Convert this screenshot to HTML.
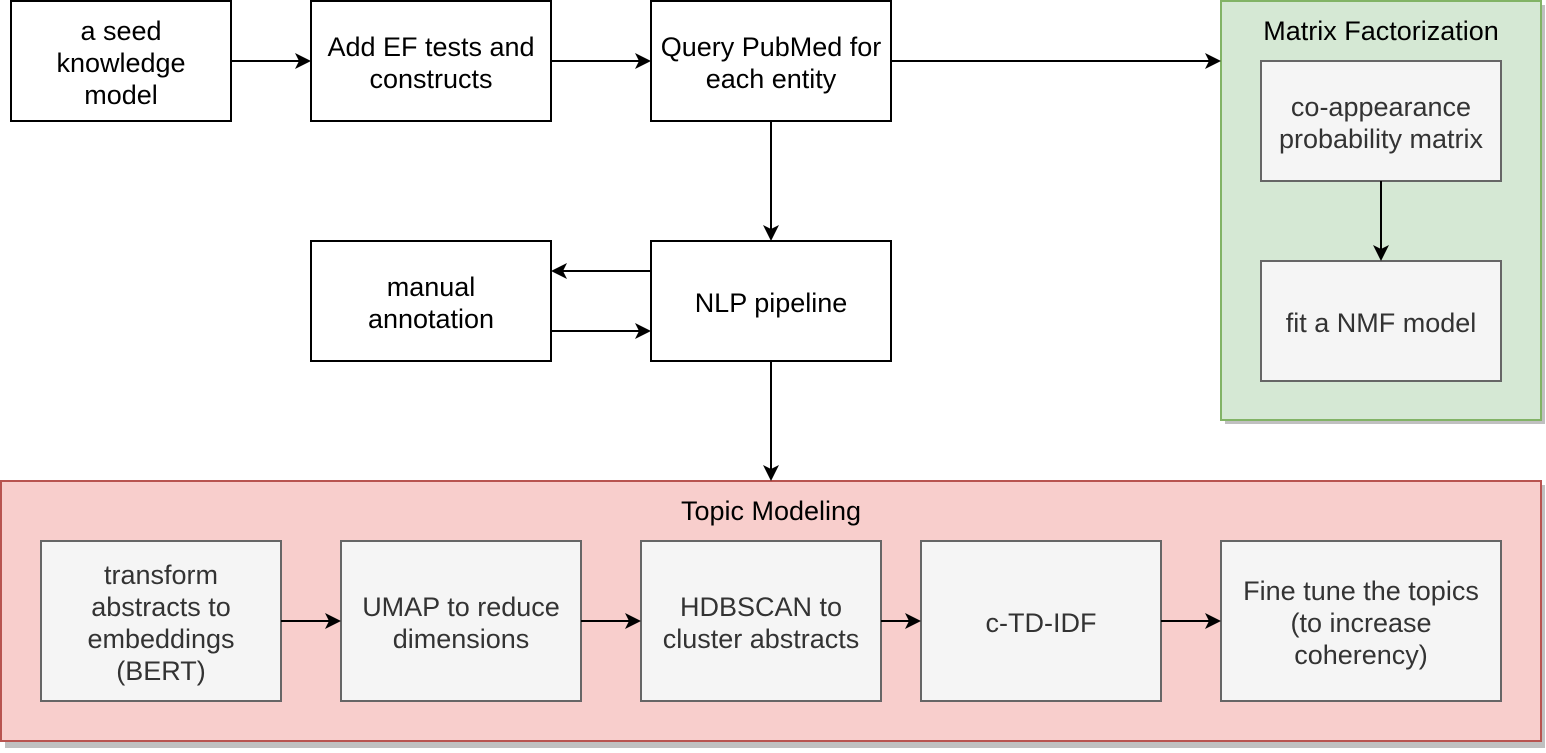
<!DOCTYPE html>
<html><head><meta charset="utf-8"><style>
html,body{margin:0;padding:0;background:#fff;}
svg text{font-family:"Liberation Sans",Arial,sans-serif;font-size:27px;text-anchor:middle;}
</style></head><body>
<svg width="1546" height="748" xmlns="http://www.w3.org/2000/svg">
<!-- shadows -->
<rect x="1225" y="5" width="320" height="419" fill="#c0c0c0"/>
<rect x="5" y="485" width="1540" height="263" fill="#c0c0c0"/>
<!-- containers -->
<rect x="1221" y="1" width="320" height="419" fill="#d5e8d4" stroke="#82b366" stroke-width="2"/>
<rect x="1" y="481" width="1540" height="260" fill="#f8cecc" stroke="#b85450" stroke-width="2"/>
<text x="1381" y="40" fill="#000">Matrix Factorization</text>
<text x="771" y="520" fill="#000">Topic Modeling</text>
<g fill="#fff" stroke="#000" stroke-width="2">
<rect x="11" y="1" width="220" height="120"/>
<rect x="311" y="1" width="240" height="120"/>
<rect x="651" y="1" width="240" height="120"/>
<rect x="651" y="241" width="240" height="120"/>
<rect x="311" y="241" width="240" height="120"/>
</g>
<g fill="#f5f5f5" stroke="#666" stroke-width="2">
<rect x="1261" y="61" width="240" height="120"/>
<rect x="1261" y="261" width="240" height="120"/>
<rect x="41" y="541" width="240" height="160"/>
<rect x="341" y="541" width="240" height="160"/>
<rect x="641" y="541" width="240" height="160"/>
<rect x="921" y="541" width="240" height="160"/>
<rect x="1221" y="541" width="280" height="160"/>
</g>
<g fill="#000">
<text x="121" y="40">a seed</text><text x="121" y="72">knowledge</text><text x="121" y="104">model</text>
<text x="431" y="56">Add EF tests and</text><text x="431" y="88">constructs</text>
<text x="771" y="56">Query PubMed for</text><text x="771" y="88">each entity</text>
<text x="771" y="312">NLP pipeline</text>
<text x="431" y="296">manual</text><text x="431" y="328">annotation</text>
</g>
<g fill="#333">
<text x="1381" y="116">co-appearance</text><text x="1381" y="148">probability matrix</text>
<text x="1381" y="332">fit a NMF model</text>
<text x="161" y="584">transform</text><text x="161" y="616">abstracts to</text><text x="161" y="648">embeddings</text><text x="161" y="680">(BERT)</text>
<text x="461" y="616">UMAP to reduce</text><text x="461" y="648">dimensions</text>
<text x="761" y="616">HDBSCAN to</text><text x="761" y="648">cluster abstracts</text>
<text x="1041" y="632">c-TD-IDF</text>
<text x="1361" y="600">Fine tune the topics</text><text x="1361" y="632">(to increase</text><text x="1361" y="664">coherency)</text>
</g>
<g stroke="#000" stroke-width="2" fill="none">
<line x1="231" y1="61" x2="300" y2="61"/>
<line x1="551" y1="61" x2="640" y2="61"/>
<line x1="891" y1="61" x2="1210" y2="61"/>
<line x1="771" y1="121" x2="771" y2="230"/>
<line x1="651" y1="271" x2="562" y2="271"/>
<line x1="551" y1="331" x2="640" y2="331"/>
<line x1="771" y1="361" x2="771" y2="470"/>
<line x1="1381" y1="181" x2="1381" y2="250"/>
<line x1="281" y1="621" x2="330" y2="621"/>
<line x1="581" y1="621" x2="630" y2="621"/>
<line x1="881" y1="621" x2="910" y2="621"/>
<line x1="1161" y1="621" x2="1210" y2="621"/>
</g>
<g fill="#000">
<path d="M311,61 l-16,-8 l4,8 l-4,8 Z"/>
<path d="M651,61 l-16,-8 l4,8 l-4,8 Z"/>
<path d="M1221,61 l-16,-8 l4,8 l-4,8 Z"/>
<path d="M651,331 l-16,-8 l4,8 l-4,8 Z"/>
<path d="M551,271 l16,-8 l-4,8 l4,8 Z"/>
<path d="M771,241 l-8,-16 l8,4 l8,-4 Z"/>
<path d="M771,481 l-8,-16 l8,4 l8,-4 Z"/>
<path d="M1381,261 l-8,-16 l8,4 l8,-4 Z"/>
<path d="M341,621 l-16,-8 l4,8 l-4,8 Z"/>
<path d="M641,621 l-16,-8 l4,8 l-4,8 Z"/>
<path d="M921,621 l-16,-8 l4,8 l-4,8 Z"/>
<path d="M1221,621 l-16,-8 l4,8 l-4,8 Z"/>
</g>
</svg>
</body></html>
